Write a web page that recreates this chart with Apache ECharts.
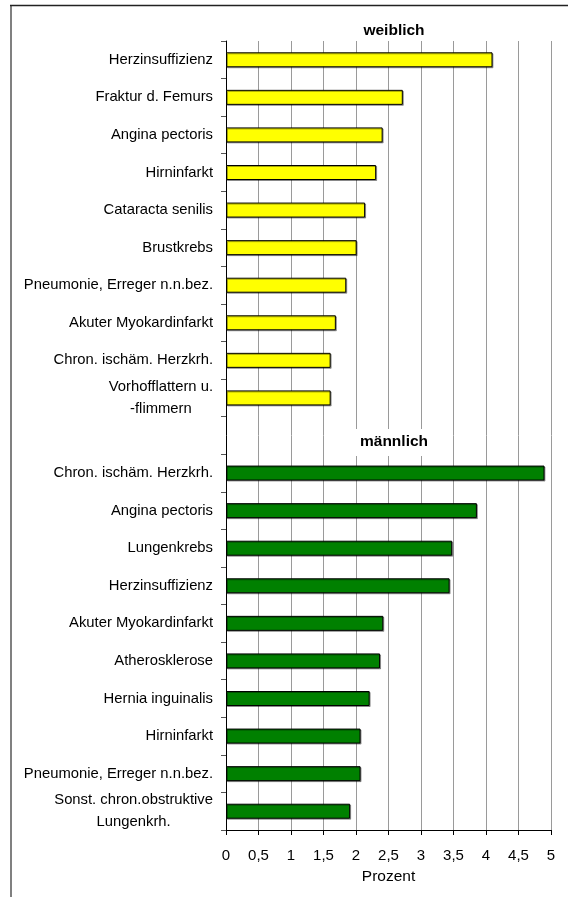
<!DOCTYPE html>
<html>
<head>
<meta charset="utf-8">
<script src="https://cdn.jsdelivr.net/npm/echarts@6/dist/echarts.min.js"></script>
<style>
html,body{margin:0;padding:0;background:#fff;}
#chart{width:568px;height:897px;}
</style>
</head>
<body>
<div id="chart"></div>
<script>
var headerWeiblich = 'weiblich';
var headerMaennlich = 'männlich';
var weiblichCategories = ['Herzinsuffizienz','Fraktur d. Femurs','Angina pectoris','Hirninfarkt','Cataracta senilis','Brustkrebs','Pneumonie, Erreger n.n.bez.','Akuter Myokardinfarkt','Chron. ischäm. Herzkrh.','Vorhofflattern u.\n-flimmern'];
var weiblichValues = [4.10, 2.72, 2.41, 2.31, 2.14, 2.01, 1.85, 1.69, 1.61, 1.61];
var maennlichCategories = ['Chron. ischäm. Herzkrh.','Angina pectoris','Lungenkrebs','Herzinsuffizienz','Akuter Myokardinfarkt','Atherosklerose','Hernia inguinalis','Hirninfarkt','Pneumonie, Erreger n.n.bez.','Sonst. chron.obstruktive\nLungenkrh.'];
var maennlichValues = [4.90, 3.86, 3.48, 3.44, 2.42, 2.37, 2.21, 2.07, 2.07, 1.91];
var xTickLabels = ['0','0,5','1','1,5','2','2,5','3','3,5','4','4,5','5'];
var axisName = 'Prozent';

var categories = weiblichCategories.concat([''], maennlichCategories);
var wData = weiblichValues.concat(maennlichCategories.map(function(){return '-';}), ['-']);
var mData = weiblichCategories.map(function(){return '-';}).concat(['-'], maennlichValues);

var FONT = 'Liberation Sans, Arial, sans-serif';
var chart = echarts.init(document.getElementById('chart'), null, {renderer:'canvas'});
var option = {
  animation: false,
  backgroundColor: '#fff',
  grid: {left: 226, right: 17, top: 41, bottom: 67, containLabel: false},
  xAxis: {
    type: 'value', min: 0, max: 5, interval: 0.5,
    axisLine: {show: true, lineStyle: {color: '#000', width: 1}},
    axisTick: {show: true, length: 5, lineStyle: {color: '#000'}},
    splitLine: {show: true, lineStyle: {color: '#9a9a9a', width: 1}},
    axisLabel: {
      margin: 18, color: '#000', fontFamily: FONT, fontSize: 15,
      formatter: function(v){ return xTickLabels[Math.round(v/0.5)]; }
    },
    name: axisName, nameLocation: 'middle', nameGap: 39,
    nameTextStyle: {color: '#000', fontFamily: FONT, fontSize: 15.5}
  },
  yAxis: {
    type: 'category', inverse: true, data: categories,
    axisLine: {show: true, lineStyle: {color: '#000', width: 1}},
    axisTick: {show: true, length: 5, interval: 0, lineStyle: {color: '#555'}},
    splitLine: {show: false},
    axisLabel: {
      interval: 0, margin: 13, color: '#000', fontFamily: FONT, fontSize: 14.8,
      formatter: function(v){
        if (v.indexOf('\n') >= 0) {
          return v.split('\n').map(function(s){ return '{c|' + s + '}'; }).join('\n');
        }
        return v;
      },
      rich: {c: {align: 'center', fontFamily: FONT, fontSize: 14.8, lineHeight: 22, color: '#000'}}
    }
  },
  graphic: [
    {type: 'line', shape: {x1: 11, y1: 5, x2: 11, y2: 897}, style: {stroke: '#808080', lineWidth: 2}, z: 100},
    {type: 'line', shape: {x1: 10, y1: 5.5, x2: 568, y2: 5.5}, style: {stroke: '#222', lineWidth: 1.5}, z: 100},
    {type: 'text', x: 394, y: 31, z: 100, style: {text: headerWeiblich, textAlign: 'center', textVerticalAlign: 'middle', font: 'bold 15.5px ' + FONT, fill: '#000'}},
    {type: 'rect', shape: {x: 348, y: 429, width: 94, height: 27}, style: {fill: '#fff'}, z: 99},
    {type: 'text', x: 394, y: 442, z: 100, style: {text: headerMaennlich, textAlign: 'center', textVerticalAlign: 'middle', font: 'bold 15.5px ' + FONT, fill: '#000'}}
  ],
  series: [
    {
      name: headerWeiblich, type: 'bar', data: wData, barWidth: 15, barGap: '-100%',
      itemStyle: {color: '#ffff00', borderColor: '#000', borderWidth: 1, shadowColor: 'rgba(0,0,0,0.35)', shadowOffsetX: 1, shadowOffsetY: 1}
    },
    {
      name: headerMaennlich, type: 'bar', data: mData, barWidth: 15, barGap: '-100%',
      itemStyle: {color: '#008000', borderColor: '#000', borderWidth: 1, shadowColor: 'rgba(0,0,0,0.35)', shadowOffsetX: 1, shadowOffsetY: 1}
    }
  ]
};
chart.setOption(option);
</script>
</body>
</html>
